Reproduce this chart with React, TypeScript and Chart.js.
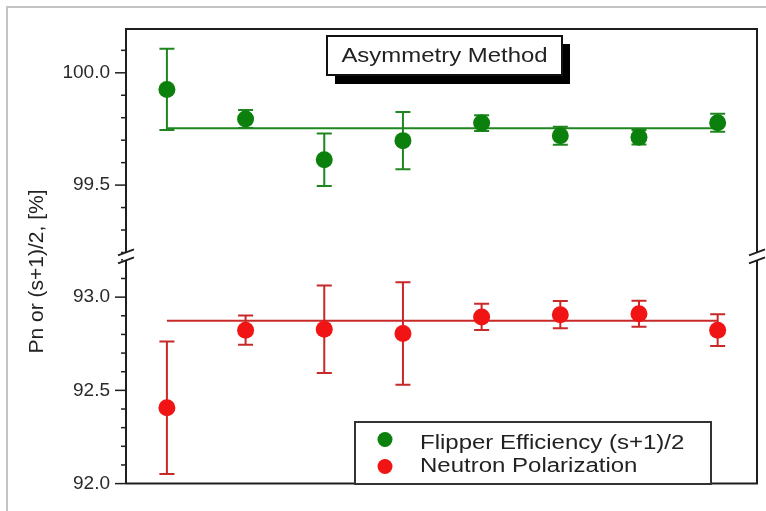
import React, { useEffect, useRef } from 'react';
import { Chart, registerables } from 'chart.js';

Chart.register(...registerables);

// ---- data ----
const runs = [1, 2, 3, 4, 5, 6, 7, 8];
const flipperValues = [99.926, 99.794, 99.613, 99.698, 99.776, 99.72, 99.713, 99.778];
const flipperErrors = [0.181, 0.04, 0.117, 0.127, 0.035, 0.04, 0.032, 0.04];
const flipperFit = 99.753;
const polarizationValues = [92.407, 92.823, 92.828, 92.805, 92.894, 92.906, 92.911, 92.823];
const polarizationErrors = [0.355, 0.078, 0.235, 0.275, 0.07, 0.073, 0.07, 0.085];
const polarizationFit = 92.873;
const fitRuns = [1, 8];
const topRange = [99.183, 100.195];
const bottomRange = [92.0, 93.219];
const tickStep = 0.1;
const labelStep = 0.5;

const titleText = 'Asymmetry Method';
const yTitleText = 'Pn or (s+1)/2, [%]';
const legendLabels = ['Flipper Efficiency (s+1)/2', 'Neutron Polarization'];

// ---- styles ----
const FONT = '"Liberation Sans", Arial, Helvetica, sans-serif';
const GREEN = '#0c800c';
const GREEN_LINE = '#1f861f';
const RED = '#f01414';
const RED_LINE = '#c82828';
const AXIS = '#1e1e1e';

const isLabelTick = (v: number) => Math.abs(v / labelStep - Math.round(v / labelStep)) < 1e-6;

const decorPlugin = {
  id: 'decor',
  beforeDatasetsDraw(chart: any) {
    const ctx = chart.ctx;
    const xs = chart.scales.x;
    const series = [
      { axis: 'yTop', vals: flipperValues, errs: flipperErrors, color: GREEN_LINE },
      { axis: 'yBottom', vals: polarizationValues, errs: polarizationErrors, color: RED_LINE },
    ];
    ctx.save();
    series.forEach((s) => {
      const ys = chart.scales[s.axis];
      ctx.strokeStyle = s.color;
      ctx.lineWidth = 2;
      s.vals.forEach((v, i) => {
        const px = xs.getPixelForValue(runs[i]);
        const t = ys.getPixelForValue(v + s.errs[i]);
        const b = ys.getPixelForValue(v - s.errs[i]);
        ctx.beginPath();
        ctx.moveTo(px, t);
        ctx.lineTo(px, b);
        ctx.moveTo(px - 7.5, t);
        ctx.lineTo(px + 7.5, t);
        ctx.moveTo(px - 7.5, b);
        ctx.lineTo(px + 7.5, b);
        ctx.stroke();
      });
    });
    ctx.restore();
  },
  afterDraw(chart: any) {
    const ctx = chart.ctx;
    const { left, right, top, bottom } = chart.chartArea;
    ctx.save();

    // outer light frame
    ctx.strokeStyle = '#c4c4c4';
    ctx.lineWidth = 2;
    ctx.beginPath();
    ctx.moveTo(7, chart.height + 5);
    ctx.lineTo(7, 7);
    ctx.lineTo(chart.width + 5, 7);
    ctx.stroke();

    // tick marks
    ctx.strokeStyle = AXIS;
    ctx.lineWidth = 1.5;
    ['yTop', 'yBottom'].forEach((id) => {
      const sc = chart.scales[id];
      sc.ticks.forEach((t: any) => {
        const y = sc.getPixelForValue(t.value);
        const len = isLabelTick(t.value) ? 11 : 5;
        ctx.beginPath();
        ctx.moveTo(sc.right - len, y);
        ctx.lineTo(sc.right, y);
        ctx.stroke();
      });
    });

    // frame: top, right, bottom
    ctx.lineWidth = 2;
    ctx.beginPath();
    ctx.moveTo(left, top);
    ctx.lineTo(right, top);
    ctx.lineTo(right, bottom);
    ctx.lineTo(left, bottom);
    ctx.stroke();

    // axis break marks
    const yb = chart.scales.yBottom.top;
    [left, right].forEach((x) => {
      ctx.fillStyle = '#ffffff';
      ctx.fillRect(x - 3, yb - 4, 6, 8);
      ctx.strokeStyle = AXIS;
      ctx.lineWidth = 1.8;
      ctx.beginPath();
      ctx.moveTo(x - 8, yb - 1);
      ctx.lineTo(x + 8, yb - 7);
      ctx.moveTo(x - 8, yb + 7);
      ctx.lineTo(x + 8, yb + 1);
      ctx.stroke();
    });

    // y title
    ctx.fillStyle = '#222';
    ctx.font = `21px ${FONT}`;
    ctx.textAlign = 'center';
    ctx.textBaseline = 'middle';
    ctx.save();
    ctx.translate(37.5, 271.5);
    ctx.rotate(-Math.PI / 2);
    ctx.fillText(yTitleText, 0, 0);
    ctx.restore();

    // title box with shadow
    ctx.fillStyle = '#000';
    ctx.fillRect(335, 44, 235, 40);
    ctx.fillStyle = '#fff';
    ctx.fillRect(327, 36, 235, 39);
    ctx.strokeStyle = '#111';
    ctx.lineWidth = 2;
    ctx.strokeRect(327, 36, 235, 39);
    ctx.fillStyle = '#222';
    ctx.save();
    ctx.translate(444.5, 62);
    ctx.scale(1.14, 1);
    ctx.font = `21px ${FONT}`;
    ctx.textAlign = 'center';
    ctx.textBaseline = 'alphabetic';
    ctx.fillText(titleText, 0, 0);
    ctx.restore();

    // legend box
    ctx.fillStyle = '#fff';
    ctx.fillRect(355, 422, 356, 62);
    ctx.strokeStyle = '#333';
    ctx.lineWidth = 2;
    ctx.strokeRect(355, 422, 356, 62);
    const entries = [
      { color: GREEN, cy: 439.5, base: 448.5, text: legendLabels[0] },
      { color: RED, cy: 466.5, base: 471.5, text: legendLabels[1] },
    ];
    entries.forEach((e) => {
      ctx.fillStyle = e.color;
      ctx.beginPath();
      ctx.arc(385, e.cy, 7.5, 0, Math.PI * 2);
      ctx.fill();
      ctx.fillStyle = '#222';
      ctx.save();
      ctx.translate(420, e.base);
      ctx.scale(1.2, 1);
      ctx.font = `20px ${FONT}`;
      ctx.textAlign = 'left';
      ctx.textBaseline = 'alphabetic';
      ctx.fillText(e.text, 0, 0);
      ctx.restore();
    });

    ctx.restore();
  },
};

const yAxis = (range: number[]) => ({
  type: 'linear' as const,
  position: 'left' as const,
  stack: 'pn',
  stackWeight: 1,
  min: range[0],
  max: range[1],
  grid: { display: false, drawTicks: false },
  border: { display: true, color: AXIS, width: 2 },
  ticks: {
    stepSize: tickStep,
    includeBounds: false,
    autoSkip: false,
    padding: 16,
    color: '#2a2a2a',
    font: { family: FONT, size: 19 },
    callback: (v: any) => (isLabelTick(Number(v)) ? Number(v).toFixed(1) : ''),
  },
  afterFit: (s: any) => {
    s.width = 126;
  },
});

export default function App() {
  const ref = useRef<HTMLCanvasElement | null>(null);
  useEffect(() => {
    if (!ref.current) return;
    const chart = new Chart(ref.current, {
      type: 'scatter',
      data: {
        datasets: [
          {
            label: legendLabels[0],
            data: runs.map((x, i) => ({ x, y: flipperValues[i] })),
            yAxisID: 'yTop',
            pointRadius: 8.5,
            pointHoverRadius: 8.5,
            backgroundColor: GREEN,
            borderColor: GREEN,
            borderWidth: 0,
            order: 0,
          },
          {
            label: 'flipper fit',
            data: fitRuns.map((x) => ({ x, y: flipperFit })),
            yAxisID: 'yTop',
            showLine: true,
            pointRadius: 0,
            borderColor: GREEN_LINE,
            borderWidth: 2,
            order: 1,
          },
          {
            label: legendLabels[1],
            data: runs.map((x, i) => ({ x, y: polarizationValues[i] })),
            yAxisID: 'yBottom',
            pointRadius: 8.5,
            pointHoverRadius: 8.5,
            backgroundColor: RED,
            borderColor: RED,
            borderWidth: 0,
            order: 0,
          },
          {
            label: 'polarization fit',
            data: fitRuns.map((x) => ({ x, y: polarizationFit })),
            yAxisID: 'yBottom',
            showLine: true,
            pointRadius: 0,
            borderColor: RED_LINE,
            borderWidth: 2,
            order: 1,
          },
        ],
      },
      options: {
        animation: false,
        responsive: true,
        maintainAspectRatio: false,
        layout: { padding: { top: 29, right: 9, bottom: 23, left: 0 } },
        plugins: { legend: { display: false }, tooltip: { enabled: false }, title: { display: false } },
        scales: {
          x: { type: 'linear', min: 0.48, max: 8.5, display: false },
          yBottom: yAxis(bottomRange),
          yTop: yAxis(topRange),
        } as any,
      },
      plugins: [decorPlugin],
    });
    return () => chart.destroy();
  }, []);
  return (
    <div style={{ position: 'absolute', left: 0, top: 0, width: 766, height: 511, background: '#fff' }}>
      <canvas ref={ref} />
    </div>
  );
}
